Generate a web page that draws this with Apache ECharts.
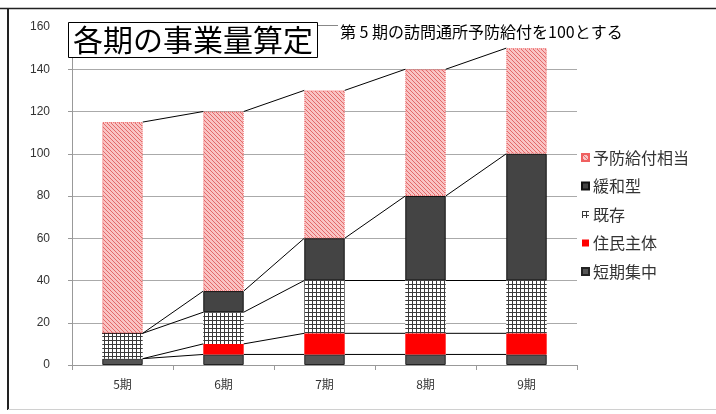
<!DOCTYPE html>
<html>
<head>
<meta charset="utf-8">
<script src="https://cdn.jsdelivr.net/npm/echarts@6/dist/echarts.min.js"></script>
<style>
html,body{margin:0;padding:0;background:#fff;}
#c{width:716px;height:414px;}
</style>
</head>
<body>
<div id="c"></div>
<script>
// ---- data ----
var categories = ['5期', '6期', '7期', '8期', '9期'];
var tanki = [3, 5, 5, 5, 5];        // 短期集中
var jumin = [0, 5, 10, 10, 10];     // 住民主体
var kizon = [12, 15, 25, 25, 25];   // 既存
var kanwa = [0, 10, 20, 40, 60];    // 緩和型
var yobo = [100, 85, 70, 60, 50];   // 予防給付相当
var seriesNames = ['短期集中', '住民主体', '既存', '緩和型', '予防給付相当'];
var legendOrder = ['予防給付相当', '緩和型', '既存', '住民主体', '短期集中'];
var titleText = '各期の事業量算定';
var subTitleText = '第 5 期の訪問通所予防給付を100とする';

var FONT = '"Noto Sans CJK JP", "Noto Sans", sans-serif';

// ---- patterns ----
function hatchPattern() {
  var c = document.createElement('canvas');
  c.width = 4; c.height = 4;
  var g = c.getContext('2d');
  g.fillStyle = '#f9c4c4';
  g.fillRect(0, 0, 4, 4);
  g.strokeStyle = '#e26a6a';
  g.lineWidth = 1;
  for (var x = -4; x <= 4; x += 4) {
    g.beginPath();
    g.moveTo(x, 0);
    g.lineTo(x + 4, 4);
    g.stroke();
  }
  return c;
}
function gridPattern() {
  var c = document.createElement('canvas');
  c.width = 4; c.height = 4;
  var g = c.getContext('2d');
  g.fillStyle = '#ffffff';
  g.fillRect(0, 0, 4, 4);
  g.fillStyle = '#3a3a3a';
  g.fillRect(0, 0, 4, 1);
  g.fillRect(0, 0, 1, 4);
  return c;
}

var stacks = [tanki, jumin, kizon, kanwa, yobo];
var styles = [
  { color: '#555555', borderColor: '#222', borderWidth: 1 },
  { color: '#ff0000', borderColor: '#ff0000', borderWidth: 0 },
  { color: { image: gridPattern(), repeat: 'repeat' }, borderColor: '#888', borderWidth: 0 },
  { color: '#444444', borderColor: '#111', borderWidth: 1 },
  { color: { image: hatchPattern(), repeat: 'repeat' }, borderColor: '#f06060', borderWidth: 1, borderType: 'dotted' }
];

var series = [];
for (var s = 0; s < stacks.length; s++) {
  series.push({
    name: seriesNames[s],
    type: 'bar',
    stack: 'total',
    barWidth: '40%',
    data: stacks[s],
    itemStyle: styles[s],
    emphasis: { disabled: true },
    z: 2
  });
}

// series lines connecting segment tops between adjacent bars
var lineData = [];
for (var s2 = 0; s2 < stacks.length; s2++) {
  for (var i = 0; i < categories.length - 1; i++) {
    var a = 0, b = 0;
    for (var k = 0; k <= s2; k++) { a += stacks[k][i]; b += stacks[k][i + 1]; }
    lineData.push([i, a, i + 1, b]);
  }
}
series.push({
  type: 'custom',
  name: 'serieslines',
  silent: true,
  z: 3,
  renderItem: function (params, api) {
    var p1 = api.coord([api.value(0), api.value(1)]);
    var p2 = api.coord([api.value(2), api.value(3)]);
    var hw = api.size([1, 0])[0] * 0.4 / 2;
    return {
      type: 'line',
      shape: { x1: p1[0] + hw, y1: p1[1], x2: p2[0] - hw, y2: p2[1] },
      style: { stroke: '#000', lineWidth: 1 }
    };
  },
  encode: { x: 0, y: 1 },
  data: lineData
});

var chart = echarts.init(document.getElementById('c'));
chart.setOption({
  animation: false,
  backgroundColor: '#fff',
  textStyle: { fontFamily: FONT },
  grid: { left: 72, right: 139, top: 27, bottom: 49, containLabel: false },
  xAxis: {
    type: 'category',
    data: categories,
    boundaryGap: true,
    axisLine: { lineStyle: { color: '#999', width: 1 } },
    axisTick: { show: true, length: 5, lineStyle: { color: '#999' } },
    axisLabel: { color: '#333', fontSize: 12, margin: 13, fontFamily: FONT }
  },
  yAxis: {
    type: 'value',
    min: 0, max: 160, interval: 20,
    axisLine: { show: true, lineStyle: { color: '#999', width: 1 } },
    axisTick: { show: true, length: 4, lineStyle: { color: '#999' } },
    axisLabel: { color: '#333', fontSize: 12, margin: 22, fontFamily: '"Liberation Sans", sans-serif' },
    splitLine: { show: true, showMaxLine: false, lineStyle: { color: '#aaaaaa', width: 1 } }
  },
  legend: {
    orient: 'vertical',
    left: 576,
    top: 144,
    data: legendOrder,
    itemWidth: 7,
    itemHeight: 7,
    itemGap: 11.5,
    icon: 'rect',
    textStyle: { fontSize: 16, color: '#333', lineHeight: 17, fontFamily: FONT, padding: [0, 0, 0, -1] },
    selectedMode: false
  },
  graphic: [
    { type: 'line', shape: { x1: 0, y1: 8.5, x2: 716, y2: 8.5 }, style: { stroke: '#222', lineWidth: 1.5 }, z: 10 },
    { type: 'line', shape: { x1: 8, y1: 8, x2: 8, y2: 410 }, style: { stroke: '#222', lineWidth: 2 }, z: 10 },
    { type: 'line', shape: { x1: 8, y1: 409.5, x2: 716, y2: 409.5 }, style: { stroke: '#d0d0d0', lineWidth: 1 }, z: 10 },
    { type: 'rect', shape: { x: 68.5, y: 22.5, width: 249, height: 35 }, style: { fill: '#fff', stroke: '#000', lineWidth: 1 }, z: 10 },
    { type: 'text', x: 193, y: 40, style: { text: titleText, font: '30px ' + FONT, fill: '#000', textAlign: 'center', textVerticalAlign: 'middle' }, z: 11 },
    { type: 'line', shape: { x1: 318, y1: 25.5, x2: 338, y2: 25.5 }, style: { stroke: '#888', lineWidth: 1 }, z: 10 },
    { type: 'text', x: 340, y: 32, style: { text: subTitleText, font: '16px ' + FONT, fill: '#000', textAlign: 'left', textVerticalAlign: 'middle' }, z: 11 }
  ],
  series: series
});
</script>
</body>
</html>
